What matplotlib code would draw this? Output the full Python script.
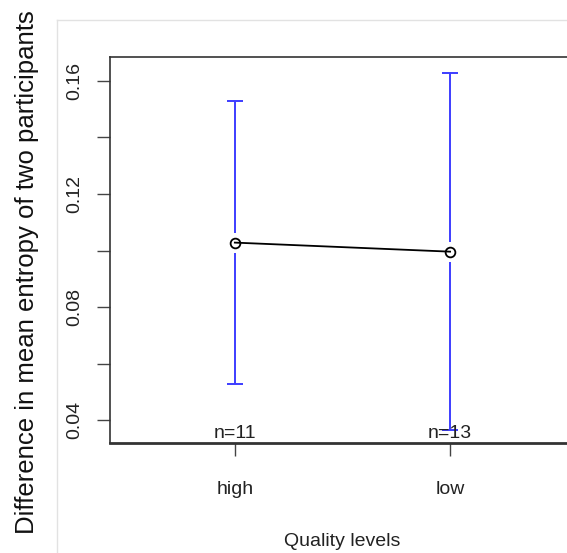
import matplotlib.pyplot as plt
from matplotlib.lines import Line2D
from matplotlib.ticker import MultipleLocator

plt.rcParams['font.family'] = ['Liberation Sans', 'DejaVu Sans']

# Data
levels = ['high', 'low']
means = [0.1028, 0.0996]
ci_upper = [0.1530, 0.1629]
ci_lower = [0.0527, 0.0365]
counts = [11, 13]

fig = plt.figure(figsize=(5.67, 5.53), dpi=100)
ax = fig.add_axes([0.194, 0.199, 0.820, 0.698])

x = list(range(1, len(levels) + 1))
ax.set_xlim(0.42, 2.58)
ax.set_ylim(0.0319, 0.1685)

# gap around the mean points, in data units (about 10 px)
gap = 10 / (0.698 * 553) * (0.1685 - 0.0319)
cap = 0.037
bar_col = '#3d3dff'
for xi, m, lo, hi in zip(x, means, ci_lower, ci_upper):
    ax.vlines(xi, m + gap, hi, color=bar_col, lw=1.4)
    ax.vlines(xi, lo, m - gap, color=bar_col, lw=1.4)
    ax.hlines([lo, hi], xi - cap, xi + cap, color=bar_col, lw=1.4)

ax.plot(x, means, color='black', lw=1.3, marker='o', markersize=7,
        markerfacecolor='none', markeredgecolor='black', markeredgewidth=1.3)

for xi, n in zip(x, counts):
    ax.text(xi, 0.0323, f'n={n}', ha='center', va='bottom', fontsize=14, color='#222222')

ax.set_xticks(x)
ax.set_xticklabels(levels)
ax.yaxis.set_major_locator(MultipleLocator(0.04))
ax.yaxis.set_minor_locator(MultipleLocator(0.02))
ax.yaxis.set_major_formatter(lambda v, pos: f'{v:.2f}')

ax.tick_params(axis='y', which='both', length=9.5, width=1.0, color='#444444',
               labelsize=14, pad=9.5, labelcolor='#222222')
ax.tick_params(axis='x', length=9, width=1.0, color='#444444', labelsize=14,
               pad=18.5, labelcolor='#222222')
for lab in ax.get_yticklabels():
    lab.set_rotation(90)
    lab.set_va('center')

for s in ax.spines.values():
    s.set_color('#333333')
    s.set_linewidth(1.2)
ax.spines['bottom'].set_linewidth(2.0)

ax.set_xlabel('Quality levels', fontsize=14, color='#222222', labelpad=25)
fig.text(0.048, 0.508, 'Difference in mean entropy of two participants',
         rotation=90, ha='center', va='center', fontsize=18.5, color='#111111')

# faint frame of the screenshot
fig.add_artist(Line2D([57 / 567, 57 / 567], [0, 1 - 20 / 553], color='#e2e2e2', lw=1.0))
fig.add_artist(Line2D([57 / 567, 1], [1 - 20 / 553, 1 - 20 / 553], color='#e2e2e2', lw=1.0))

fig.savefig('out.png', dpi=100)
